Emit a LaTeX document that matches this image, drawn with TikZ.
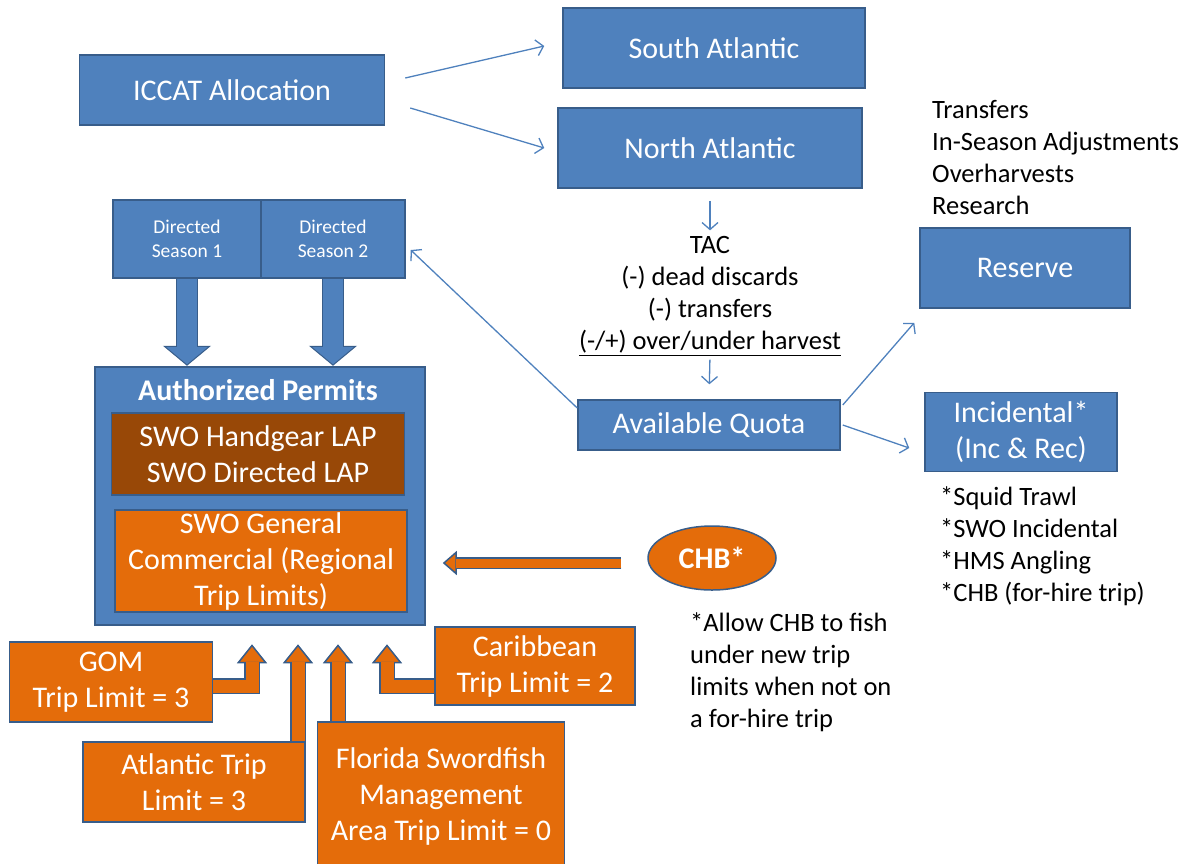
\documentclass[tikz,border=0pt]{standalone}
\usepackage{fontspec}
\setmainfont{Carlito}
\usepackage{tikz}
\usetikzlibrary{shapes,arrows.meta,positioning,calc}

\definecolor{boxblue}{HTML}{4F81BD}
\definecolor{boxedge}{HTML}{385D8A}
\definecolor{swoorange}{HTML}{E46C0A}
\definecolor{swobrown}{HTML}{984807}

\newcommand{\bigtxt}{\fontsize{30}{36}\selectfont}
\newcommand{\bodytxt}{\fontsize{26.5}{32}\selectfont}
\newcommand{\smalltxt}{\fontsize{19.5}{24}\selectfont}

\begin{document}
\begin{tikzpicture}[x=1pt,y=-1pt]
  \tikzset{box/.style = {draw=boxedge,fill=boxblue,line width=1.5pt,text=white,align=center,font=\bigtxt,inner sep=0pt}}
  \tikzset{obox/.style = {box,fill=swoorange}}
  \tikzset{note/.style = {font=\bodytxt,align=left,anchor=north west,inner sep=0pt}}
  \tikzset{link/.style = {draw=boxblue,line width=1.3pt,-{Straight Barb[length=7pt,width=16pt]}}}
  \tikzset{fatblue/.style = {draw=boxedge,line width=22pt,-{Triangle[width=48pt,length=20pt,line width=1pt,fill=boxblue]}}}
  \tikzset{fatblue in/.style = {draw=boxblue,line width=20pt,shorten >=19pt}}
  \tikzset{fatorange/.style = {draw=boxedge,line width=16pt,line join=miter,-{Triangle[width=30pt,length=19pt,line width=1.5pt,fill=swoorange]}}}
  \tikzset{fatorange in/.style = {draw=swoorange,line width=13pt,line join=miter,shorten >=18pt}}
  \tikzset{fatchb/.style = {draw=boxedge,line width=12pt,-{Triangle[width=24pt,length=14pt,line width=1.5pt,fill=swoorange]}}}
  \tikzset{fatchb in/.style = {draw=swoorange,line width=9pt,shorten >=13pt}}

  \useasboundingbox (0,0) rectangle (1183,863);

  % top row
  \node[box,minimum width=305,minimum height=70] (iccat) at (232,90) {ICCAT Allocation};
  \node[box,minimum width=302,minimum height=80] (south) at (714,48) {South Atlantic};
  \node[box,minimum width=304,minimum height=80] (north) at (710,148) {North Atlantic};

  % quota chain
  \node[font=\bodytxt,align=center,inner sep=0pt] (tac) at (710,296)
    {TAC\\(-) dead discards\\(-) transfers\\\underline{(-/+) over/under harvest}};
  \node[box,minimum width=262,minimum height=50] (quota) at (709,425) {Available Quota};
  \node[box,minimum width=210,minimum height=80] (reserve) at (1025,268) {Reserve};
  \node[box,minimum width=192,minimum height=79] (incid) at (1021,432) {Incidental*\\(Inc \& Rec)};
  \node[note] (adjust) at (932,100) {Transfers\\In-Season Adjustments\\Overharvests\\Research};
  \node[note] (inclist) at (940,486) {*Squid Trawl\\*SWO Incidental\\*HMS Angling\\*CHB (for-hire trip)};

  % directed seasons
  \node[box,font=\smalltxt,minimum width=148,minimum height=78] (ds1) at (187,239) {Directed\\Season 1};
  \node[box,font=\smalltxt,minimum width=144,minimum height=78] (ds2) at (333,239) {Directed\\Season 2};

  % permits
  \node[box,line width=2.5pt,minimum width=330,minimum height=258] (perm) at (260,496) {};
  \node[font=\bigtxt\bfseries,text=white,inner sep=0pt] (permtitle) at (258,390) {Authorized Permits};
  \node[box,fill=swobrown,minimum width=293,minimum height=82] (lap) at (258,454) {SWO Handgear LAP\\SWO Directed LAP};
  \node[obox,minimum width=292,minimum height=102] (gen) at (261,561) {SWO General\\Commercial (Regional\\Trip Limits)};

  % CHB
  \node[obox,ellipse,minimum width=128,minimum height=64,font=\bigtxt\bfseries] (chb) at (712,558) {CHB*};
  \node[note] (chbnote) at (690,612) {*Allow CHB to fish\\under new trip\\limits when not on\\a for-hire trip};

  % regions
  \node[obox,minimum width=203,minimum height=80] (gom) at (111,682) {GOM\\Trip Limit = 3};
  \node[obox,minimum width=222,minimum height=80] (atl) at (194,782) {Atlantic Trip\\Limit = 3};
  \node[obox,minimum width=247,minimum height=148] (fla) at (441,796) {Florida Swordfish\\Management\\Area Trip Limit = 0};
  \node[obox,minimum width=200,minimum height=78] (carib) at (535,666) {Caribbean\\Trip Limit = 2};

  % thin arrows
  \draw[link] ($(iccat.east)+(20,-12)$) -- ($(south.west)+(-18,-2)$);
  \draw[link] ($(iccat.east)+(25,18)$) -- ($(north.west)+(-13,0)$);
  \draw[link,shorten <=12pt,shorten >=6pt] (north.south) -- (tac.north);
  \draw[link,shorten <=4pt,shorten >=15pt] (tac.south) -- (quota.north);
  \draw[link] ($(quota.west)+(0,-17)$) -- ($(ds2.east)+(5,11)$);
  \draw[link] ($(quota.east)+(2,-20)$) -- ($(reserve.south west)+(-5,14)$);
  \draw[link] ($(quota.east)+(2,0)$) -- ($(incid.west)+(-15,16)$);

  % block arrows
  \draw[fatblue] (ds1.south) -- (ds1.south |- perm.north);
  \draw[fatblue in] (ds1.south) -- (ds1.south |- perm.north);
  \draw[fatblue] (ds2.south) -- (ds2.south |- perm.north);
  \draw[fatblue in] (ds2.south) -- (ds2.south |- perm.north);

  \coordinate (chbtip) at ($(gen.east)+(35,2)$);
  \draw[fatchb] ($(chb.west)+(-26,5)$) -- (chbtip);
  \draw[fatchb in] ($(chb.west)+(-26,5)$) -- (chbtip);

  \coordinate (gomtip) at ($(perm.south)+(-8,18)$);
  \coordinate (atltip) at ($(perm.south)+(38,18)$);
  \coordinate (flatip) at ($(perm.south)+(78,18)$);
  \coordinate (cartip) at ($(perm.south)+(127,18)$);
  \draw[fatorange] ($(gom.east)+(0,4)$) -| (gomtip);
  \draw[fatorange in] ($(gom.east)+(0,4)$) -| (gomtip);
  \draw[fatorange] (atltip |- atl.north) -- (atltip);
  \draw[fatorange in] (atltip |- atl.north) -- (atltip);
  \draw[fatorange] (flatip |- fla.north) -- (flatip);
  \draw[fatorange in] (flatip |- fla.north) -- (flatip);
  \draw[fatorange] ($(carib.west)+(0,20)$) -| (cartip);
  \draw[fatorange in] ($(carib.west)+(0,20)$) -| (cartip);
\end{tikzpicture}
\end{document}
